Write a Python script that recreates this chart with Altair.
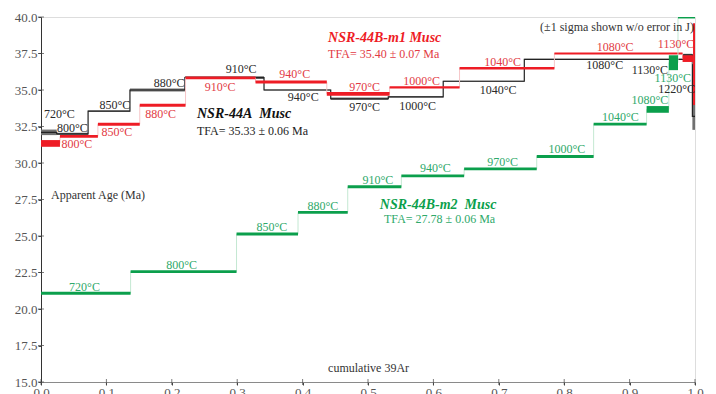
import altair as alt
import pandas as pd

# ---------------- data ----------------
temps = ["720°C", "800°C", "850°C", "880°C", "910°C", "940°C", "970°C",
         "1000°C", "1040°C", "1080°C", "1130°C", "1220°C"]

# NSR-44A Musc (black)
a_cum = [0.024, 0.072, 0.136, 0.220, 0.341, 0.443, 0.531, 0.615, 0.739, 0.982, 0.996, 1.0]
a_age = [32.10, 32.00, 33.55, 35.00, 35.85, 35.00, 34.40, 34.53, 35.60, 37.10, 37.40, 33.20]
a_err = [0.19, 0.08, 0.04, 0.11, 0.09, 0.04, 0.09, 0.04, 0.04, 0.04, 0.08, 0.93]
a_lab_x = [0.028, 0.048, 0.113, 0.196, 0.306, 0.401, 0.495, 0.576, 0.699, 0.862, 0.931, 0.972]
a_lab_y = [33.39, 32.41, 33.96, 35.51, 36.47, 34.49, 33.84, 33.91, 35.03, 36.70, 36.40, 35.05]

# NSR-44B-m1 Musc (red)
r_cum = [0.029, 0.087, 0.151, 0.221, 0.328, 0.437, 0.533, 0.640, 0.785, 0.981, 0.997, 1.0]
r_age = [31.34, 31.82, 32.65, 33.96, 35.83, 35.55, 34.73, 35.18, 36.49, 37.50, 37.15, 36.77]
r_err = [0.23, 0.09, 0.10, 0.10, 0.09, 0.10, 0.13, 0.08, 0.09, 0.07, 0.23, 2.80]
r_lab_x = [None, 0.055, 0.116, 0.183, 0.274, 0.388, 0.495, 0.582, 0.706, 0.878, 0.971, None]
r_lab_y = [None, 31.29, 32.09, 33.39, 35.21, 36.08, 35.21, 35.62, 36.92, 37.95, 38.18, None]

# NSR-44B-m2 Musc (green)
g_cum = [0.137, 0.299, 0.393, 0.469, 0.551, 0.647, 0.758, 0.845, 0.926, 0.960, 0.974, 1.0]
g_age = [21.08, 22.56, 25.14, 26.62, 28.37, 29.12, 29.60, 30.45, 32.66, 33.67, 36.87, 40.00]
g_err = [0.10, 0.10, 0.10, 0.10, 0.10, 0.10, 0.10, 0.10, 0.10, 0.23, 0.51, 0.10]
g_lab_x = [0.0665, 0.215, 0.353, 0.431, 0.515, 0.603, 0.706, 0.804, 0.886, 0.931, 0.966, None]
g_lab_y = [21.53, 23.02, 25.59, 27.07, 28.83, 29.63, 30.08, 30.95, 33.16, 34.30, 35.85, None]

x_ticks = [0.0, 0.1, 0.2, 0.3, 0.4, 0.5, 0.6, 0.7, 0.8, 0.9, 1.0]
y_ticks = [15.0, 17.5, 20.0, 22.5, 25.0, 27.5, 30.0, 32.5, 35.0, 37.5, 40.0]

# ---------------- helpers ----------------
FONT = "Liberation Serif"
BLACK, GRAYBOX = "#222222", "#707070"
RED, RED_T = "#ee1c25", "#e23a44"
GREEN, GREEN_T = "#0b9f4c", "#2ea96a"

X_SCALE = alt.Scale(domain=[0, 1], nice=False, zero=False)
Y_SCALE = alt.Scale(domain=[15, 40], nice=False, zero=False)

X_AXIS = alt.Axis(values=x_ticks, format=".1f", grid=False, labelFont=FONT, labelFontSize=13,
                  labelColor="#555555", tickSize=3, tickColor="#444444", domainColor="#8a8a8a",
                  labelPadding=1, labelFlush=False, title=None)
Y_AXIS = alt.Axis(values=y_ticks, format=".1f", grid=False, labelFont=FONT, labelFontSize=13,
                  labelColor="#555555", tickSize=3, tickColor="#444444", domainColor="#333333",
                  labelPadding=1, labelFlush=False, title=None)


def boxes(cum, age, err):
    x0 = [0.0] + cum[:-1]
    return pd.DataFrame({"x0": x0, "x1": cum,
                         "lo": [a - e for a, e in zip(age, err)],
                         "hi": [a + e for a, e in zip(age, err)]})


def path(cum, age):
    x0 = [0.0] + cum[:-1]
    rows = []
    for i, (a, b, y) in enumerate(zip(x0, cum, age)):
        rows.append({"x": a, "y": y, "o": 2 * i})
        rows.append({"x": b, "y": y, "o": 2 * i + 1})
    return pd.DataFrame(rows)


def labels(lx, ly):
    rows = [{"x": x, "y": y, "t": t} for x, y, t in zip(lx, ly, temps) if x is not None]
    return pd.DataFrame(rows)


def X(f="x"):
    return alt.X(f"{f}:Q", scale=X_SCALE, axis=X_AXIS, title=None)


def Y(f="y"):
    return alt.Y(f"{f}:Q", scale=Y_SCALE, axis=Y_AXIS, title=None)


def step_line(cum, age, color, width):
    return alt.Chart(path(cum, age)).mark_line(color=color, strokeWidth=width, clip=True).encode(
        x=X(), y=Y(), order="o:Q")


def step_rect(cum, age, err, color):
    return alt.Chart(boxes(cum, age, err)).mark_rect(color=color, clip=True).encode(
        x=X("x0"), x2="x1", y=Y("lo"), y2="hi")


def step_text(lx, ly, color):
    return alt.Chart(labels(lx, ly)).mark_text(
        font=FONT, fontSize=12, color=color, baseline="middle", align="center").encode(
        x=X(), y=Y(), text="t:N")


def note(text, x, y, color, size=12, bold=False, align="left"):
    kw = dict(font=FONT, fontSize=size, color=color, baseline="middle", align=align)
    if bold:
        kw.update(fontWeight="bold", fontStyle="italic")
    return alt.Chart(pd.DataFrame({"x": [x], "y": [y], "t": [text]})).mark_text(**kw).encode(
        x=X(), y=Y(), text="t:N")


y_inner = alt.Chart(pd.DataFrame({"y": y_ticks})).mark_tick(
    orient="horizontal", size=6, thickness=1, color="#444444").encode(y=Y(), x=alt.value(0))
x_inner = alt.Chart(pd.DataFrame({"x": x_ticks})).mark_tick(
    orient="vertical", size=6, thickness=1, color="#444444").encode(x=X(), y=alt.value(365))

layers = [
    y_inner, x_inner,
    # black spectrum
    step_rect(a_cum, a_age, a_err, GRAYBOX),
    step_line(a_cum, a_age, BLACK, 1.2),
    # red spectrum
    step_line(r_cum, r_age, "#f6c6c8", 1),
    step_rect(r_cum, r_age, r_err, RED),
    # green spectrum
    step_line(g_cum, g_age, "#c4e8d2", 1),
    step_rect(g_cum, g_age, g_err, GREEN),
    # step labels
    step_text(a_lab_x, a_lab_y, "#2a2a2a"),
    step_text(r_lab_x, r_lab_y, RED_T),
    step_text(g_lab_x, g_lab_y, GREEN_T),
    # annotations
    note("NSR-44A\u00a0 Musc", 0.2385, 33.39, "#111111", size=14, bold=True),
    note("TFA= 35.33 ± 0.06 Ma", 0.2385, 32.22, "#222222", size=12),
    note("NSR-44B-m1 Musc", 0.439, 38.54, RED, size=14, bold=True),
    note("TFA= 35.40 ± 0.07 Ma", 0.439, 37.45, RED_T, size=12),
    note("NSR-44B-m2\u00a0 Musc", 0.518, 27.12, GREEN, size=14, bold=True),
    note("TFA= 27.78 ± 0.06 Ma", 0.5245, 26.16, GREEN_T, size=12),
    note("(±1 sigma shown w/o error in J)", 0.9985, 39.30, "#333333", size=12, align="right"),
    note("Apparent Age (Ma)", 0.0153, 27.80, "#333333", size=12),
    note("cumulative 39Ar", 0.439, 15.97, "#333333", size=12),
]

chart = alt.layer(*layers).properties(
    width=654, height=365,
    autosize=alt.AutoSizeParams(type="none"),
    padding={"left": 33, "top": 9, "right": 13, "bottom": 24},
).configure_view(stroke="#8a8a8a", strokeWidth=1).configure(background="white")

chart.save("out.html", embed_options={"renderer": "svg", "actions": False})
